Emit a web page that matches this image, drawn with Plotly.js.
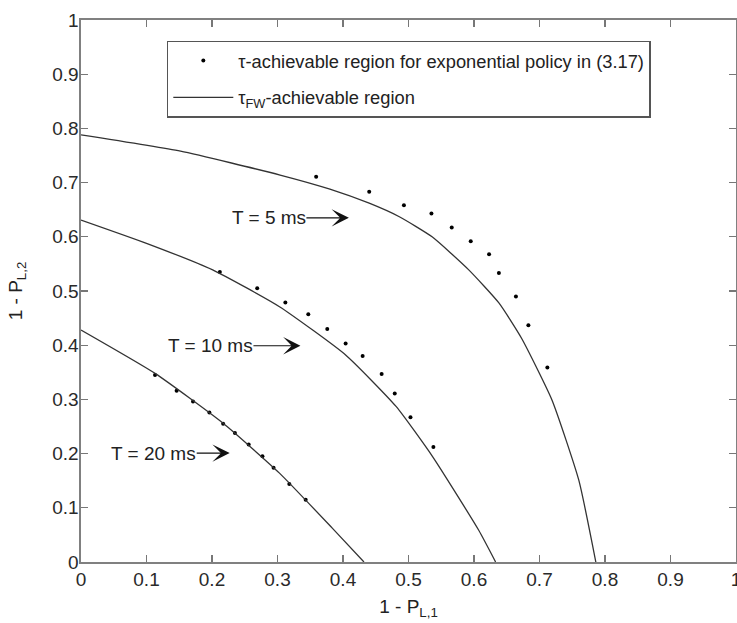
<!DOCTYPE html>
<html>
<head>
<meta charset="utf-8">
<script src="https://cdn.plot.ly/plotly-3.0.1.min.js"></script>
<style>html,body{margin:0;padding:0;background:#fff;}#chart{width:737px;height:623px;}</style>
</head>
<body>
<div id="chart"></div>
<script>
// tau_FW-achievable region boundaries (solid curves)
const curve5_x  = [0, 0.152, 0.304, 0.380, 0.440, 0.486, 0.536, 0.592, 0.638, 0.673, 0.719, 0.760, 0.786];
const curve5_y  = [0.788, 0.758, 0.714, 0.688, 0.662, 0.637, 0.600, 0.539, 0.478, 0.412, 0.299, 0.151, 0];
const curve10_x = [0, 0.100, 0.201, 0.303, 0.404, 0.481, 0.537, 0.607, 0.633];
const curve10_y = [0.631, 0.588, 0.539, 0.471, 0.382, 0.287, 0.194, 0.059, 0];
const curve20_x = [0, 0.113, 0.217, 0.303, 0.384, 0.432];
const curve20_y = [0.428, 0.348, 0.256, 0.164, 0.062, 0];

// tau-achievable region for exponential policy (dots)
const dots5_x  = [0.359, 0.440, 0.493, 0.535, 0.566, 0.595, 0.623, 0.638, 0.664, 0.683, 0.712];
const dots5_y  = [0.711, 0.683, 0.658, 0.643, 0.617, 0.592, 0.568, 0.533, 0.490, 0.437, 0.359];
const dots10_x = [0.212, 0.269, 0.312, 0.347, 0.376, 0.404, 0.430, 0.459, 0.479, 0.503, 0.538];
const dots10_y = [0.535, 0.505, 0.479, 0.457, 0.430, 0.403, 0.380, 0.347, 0.311, 0.267, 0.212];
const dots20_x = [0.113, 0.146, 0.171, 0.196, 0.217, 0.235, 0.256, 0.277, 0.294, 0.318, 0.343];
const dots20_y = [0.345, 0.316, 0.296, 0.276, 0.255, 0.238, 0.217, 0.195, 0.174, 0.144, 0.115];

const tickVals = [0, 0.1, 0.2, 0.3, 0.4, 0.5, 0.6, 0.7, 0.8, 0.9, 1];
const tickText = ['0', '0.1', '0.2', '0.3', '0.4', '0.5', '0.6', '0.7', '0.8', '0.9', '1'];

const labels = ['T = 5 ms', 'T = 10 ms', 'T = 20 ms'];
const labelTipX = [0.409, 0.335, 0.227];
const labelTipY = [0.635, 0.399, 0.201];
const labelOffset = [-80, -90, -76];

const dotName = 'τ-achievable region for exponential policy in (3.17)';
const lineName = 'τ<sub>FW</sub>-achievable region';

const FONT = 'Arial, "Liberation Sans", sans-serif';
const lineStyle = {color: '#333333', width: 1.3, shape: 'spline', smoothing: 0.5};
const dotStyle = {color: '#000000', size: 4};

const traces = [];
[[dots5_x, dots5_y], [dots10_x, dots10_y], [dots20_x, dots20_y]].forEach((d, i) => {
  traces.push({x: d[0], y: d[1], type: 'scatter', mode: 'markers', marker: dotStyle,
    name: dotName, legendgroup: 'dots', showlegend: i === 0, hoverinfo: 'skip'});
});
[[curve5_x, curve5_y], [curve10_x, curve10_y], [curve20_x, curve20_y]].forEach((d, i) => {
  traces.push({x: d[0], y: d[1], type: 'scatter', mode: 'lines', line: lineStyle,
    name: lineName, legendgroup: 'lines', showlegend: i === 0, hoverinfo: 'skip'});
});

const annotations = labels.map((t, i) => ({
  x: labelTipX[i], y: labelTipY[i], xref: 'x', yref: 'y',
  text: t, showarrow: true, ax: labelOffset[i], ay: 0,
  arrowhead: 3, arrowsize: 2.4, arrowwidth: 1.2, arrowcolor: '#111',
  font: {family: FONT, size: 19, color: '#222'}, borderpad: 0, standoff: 0
}));

const axisCommon = {
  range: [0, 1], tickvals: tickVals, ticktext: tickText,
  ticks: 'inside', ticklen: 7, tickwidth: 1.3, tickcolor: '#777',
  showline: true, linecolor: '#808080', linewidth: 1.6, mirror: 'ticks',
  showgrid: false, zeroline: false, fixedrange: true,
  ticklabeloverflow: 'allow',
  tickfont: {family: FONT, size: 19, color: '#2a2a2a'}
};

const layout = {
  width: 737, height: 623,
  margin: {l: 81, r: 1, t: 20, b: 61},
  paper_bgcolor: '#fff', plot_bgcolor: '#fff',
  showlegend: true,
  legend: {x: 0.131, y: 0.962, xanchor: 'left', yanchor: 'top',
    bordercolor: '#555', borderwidth: 1.5, bgcolor: '#fff',
    font: {family: FONT, size: 18.3, color: '#222'},
    traceorder: 'grouped', tracegroupgap: 10, itemwidth: 60},
  xaxis: Object.assign({}, axisCommon, {
    title: {text: '1 - P<sub>L,1</sub>', font: {family: FONT, size: 19, color: '#222'}, standoff: 10}
  }),
  yaxis: Object.assign({}, axisCommon, {
    ticklabelstandoff: -3,
    title: {text: '1 - P<sub>L,2</sub>', font: {family: FONT, size: 19, color: '#222'}, standoff: 24}
  }),
  annotations: annotations
};

Plotly.newPlot('chart', traces, layout, {displayModeBar: false, staticPlot: true});
</script>
</body>
</html>
